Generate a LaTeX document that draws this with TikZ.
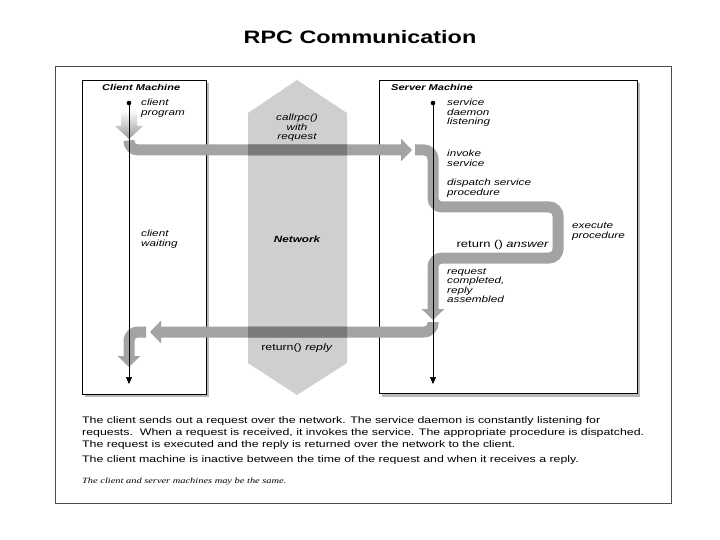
\documentclass[tikz,border=0pt]{standalone}
\usepackage{fontspec}
\setmainfont{Liberation Sans}[FakeStretch=1.3]
\setmonofont{Liberation Serif}[FakeStretch=1.3]
\usetikzlibrary{arrows.meta,shadows}
\begin{document}
\begin{tikzpicture}[x=1pt,y=-1pt,
  lbl/.style={font=\fontsize{9}{10}\selectfont\itshape,align=left,anchor=north west,inner sep=0pt},
  box/.style={draw=black,line width=0.9pt,fill=white,drop shadow={shadow xshift=3pt,shadow yshift=-3pt,fill=black!45,opacity=0.6}},
  flow/.style={line width=11pt,draw=black!36,rounded corners=9pt,-{Triangle[width=22pt,length=11pt]}},
  flowdark/.style={flow,draw=black!52},
  life/.style={line width=0.6pt,-{Triangle[width=6pt,length=7pt]}}]
\useasboundingbox (0,0) rectangle (720,540);
\node[font=\fontsize{18}{20}\selectfont\bfseries] (title) at (360,37) {RPC Communication};
\draw[black!70,line width=0.8pt] (55,66) rectangle (671,503);
\node[box,minimum width=124pt,minimum height=314pt,inner sep=0pt] (client) at (144,237) {};
\node[box,minimum width=258pt,minimum height=313pt,inner sep=0pt] (server) at (508,237) {};
% network
\fill[black!19] (248,113) -- (297,80) -- (347,113) -- (347,363) -- (297,395) -- (248,363) -- cycle;
% client program fat arrow
\shade[top color=white,bottom color=black!40] (121,110) -- (137,110) -- (137,126) -- (143,126) -- (129,139) -- (115,126) -- (121,126) -- cycle;
% flows
\coordinate (c1) at (129,143);
\coordinate (s0) at (412,150);
\coordinate (s1) at (415,150);
\coordinate (s2) at (433,320);
\coordinate (s3) at (433,322);
\coordinate (c2) at (150,332);
\coordinate (c3) at (146,332);
\coordinate (c4) at (129,367);
\draw[flow] (c1) -- (129,150) -- (s0);
\draw[flow] (s1) -- (433,150) -- (433,207) -- (558,207) -- (558,258) -- (433,258) -- (s2);
\draw[flow] (s3) -- (433,332) -- (c2);
\draw[flow] (c3) -- (129,332) -- (c4);
\begin{scope}
\clip (248,113) -- (297,80) -- (347,113) -- (347,363) -- (297,395) -- (248,363) -- cycle;
\draw[flowdark] (c1) -- (129,150) -- (s0);
\draw[flowdark] (s3) -- (433,332) -- (c2);
\end{scope}
% lifelines
\coordinate (cl0) at (129,103); \coordinate (cl1) at (129,384);
\coordinate (sl0) at (433,103); \coordinate (sl1) at (433,384);
\draw[life] (cl0) -- (cl1);
\draw[life] (sl0) -- (sl1);
\fill (cl0) circle (2.3pt);
\fill (sl0) circle (2.3pt);
% texts
\node[lbl,font=\fontsize{8.5}{10}\selectfont\bfseries\itshape] (ct) at (102,84) {Client Machine};
\node[lbl,font=\fontsize{8.5}{10}\selectfont\bfseries\itshape] (st) at (391,84) {Server Machine};
\node[lbl] (cp) at (141,99) {client\\program};
\node[lbl] (cw) at (141,230) {client\\waiting};
\node[font=\fontsize{9}{9.5}\selectfont\itshape,align=center] (call) at (297,128) {callrpc()\\with\\request};
\node[font=\fontsize{9}{10}\selectfont\bfseries\itshape] (net) at (297,239) {Network};
\node[font=\fontsize{9.5}{10}\selectfont] (rr) at (297,348) {return() \textit{reply}};
\node[lbl,font=\fontsize{9}{9.5}\selectfont\itshape] (sd) at (447,99) {service\\daemon\\listening};
\node[lbl] (inv) at (447,150) {invoke\\service};
\node[lbl] (dsp) at (447,179) {dispatch service\\procedure};
\node[lbl] (ex) at (572,222) {execute\\procedure};
\node[font=\fontsize{10}{11}\selectfont,anchor=east,inner sep=0pt] (ra) at (549,245) {return () \textit{answer}};
\node[lbl,font=\fontsize{9}{9.5}\selectfont\itshape] (rc) at (447,268) {request\\completed,\\reply\\assembled};
\node[font=\fontsize{9.5}{12.3}\selectfont,align=left,anchor=north west,inner sep=0pt] (d1) at (82,416) {The client sends out a request over the network. The service daemon is constantly listening for\\requests.\ \ When a request is received, it invokes the service. The appropriate procedure is dispatched.\\The request is executed and the reply is returned over the network to the client.};
\node[font=\fontsize{9.5}{12}\selectfont,anchor=north west,inner sep=0pt] (d2) at (82,455) {The client machine is inactive between the time of the request and when it receives a reply.};
\node[font=\fontsize{8}{10}\selectfont\ttfamily\itshape,anchor=north west,inner sep=0pt] (d3) at (82,478) {The client and server machines may be the same.};
\end{tikzpicture}
\end{document}
